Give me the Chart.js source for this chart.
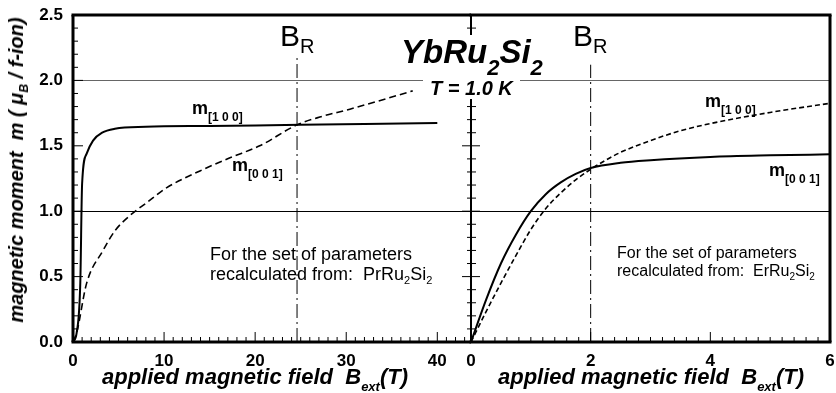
<!DOCTYPE html>
<html>
<head>
<meta charset="utf-8">
<script src="https://cdn.jsdelivr.net/npm/chart.js@4.4.1/dist/chart.umd.min.js"></script>
<style>
  body { margin: 0; background: #fff; }
  #wrap { position: relative; width: 836px; height: 393px; overflow: hidden; font-family: "Liberation Sans", Arial, sans-serif; color: #000; }
  canvas { position: absolute; top: 0; }
  .t { position: absolute; white-space: nowrap; line-height: 1; }
  .b { font-weight: bold; }
  .bi { font-weight: bold; font-style: italic; }
  .sub { position: relative; }
</style>
</head>
<body>
<div id="wrap">
  <canvas id="left" width="471" height="393" style="left:0"></canvas>
  <canvas id="right" width="396" height="393" style="left:440px"></canvas>

  <div class="t" style="left:280px;top:21px;font-size:30px">B<span class="sub" style="font-size:20px;top:7px">R</span></div>
  <div class="t" style="left:573px;top:21px;font-size:30px">B<span class="sub" style="font-size:20px;top:7px">R</span></div>

  <div class="t bi" style="left:398px;top:35px;font-size:33px;line-height:33px;height:43px;background:#fff;padding:0 3px">YbRu<span class="sub" style="font-size:22px;top:12px">2</span>Si<span class="sub" style="font-size:22px;top:12px">2</span></div>
  <div class="t bi" style="left:423px;top:77px;font-size:20px;line-height:22px;background:#fff;padding:0 7px">T = 1.0 K</div>

  <div class="t b" style="left:192px;top:99px;font-size:18px">m<span class="sub" style="font-size:12px;top:7px">[1 0 0]</span></div>
  <div class="t b" style="left:232px;top:156px;font-size:18px">m<span class="sub" style="font-size:12px;top:7px">[0 0 1]</span></div>
  <div class="t b" style="left:705px;top:92px;font-size:18px">m<span class="sub" style="font-size:12px;top:7px">[1 0 0]</span></div>
  <div class="t b" style="left:769px;top:161px;font-size:18px">m<span class="sub" style="font-size:12px;top:7px">[0 0 1]</span></div>

  <div class="t" style="left:210px;top:244px;font-size:18px;line-height:20px">For the set of parameters<br>recalculated from:&nbsp; PrRu<span class="sub" style="font-size:11px;top:4px">2</span>Si<span class="sub" style="font-size:11px;top:4px">2</span></div>
  <div class="t" style="left:617px;top:244px;font-size:16px;line-height:18px">For the set of parameters<br>recalculated from:&nbsp; ErRu<span class="sub" style="font-size:10px;top:4px">2</span>Si<span class="sub" style="font-size:10px;top:4px">2</span></div>

  <div class="t bi" style="left:255px;top:366px;font-size:22px;transform:translateX(-50%)">applied magnetic field&nbsp; B<span class="sub" style="font-size:13px;top:7px">ext</span>(T)</div>
  <div class="t bi" style="left:651px;top:366px;font-size:22px;transform:translateX(-50%)">applied magnetic field&nbsp; B<span class="sub" style="font-size:13px;top:7px">ext</span>(T)</div>

  <div class="t bi" style="left:16px;top:170px;font-size:20px;transform:translate(-50%,-50%) rotate(-90deg)">magnetic moment&nbsp; m ( μ<span class="sub" style="font-size:12px;top:5px">B</span> / f-ion)</div>
</div>

<script>
// left panel: set of parameters from PrRu2Si2, field up to 40 T
const leftField100 = [0, 0.4, 0.8, 1.0, 1.5, 2.2, 3.2, 4.6, 8, 15, 25, 32, 40];
const leftM100 = [0, 0.07, 0.45, 1.21, 1.44, 1.54, 1.6, 1.63, 1.645, 1.652, 1.66, 1.667, 1.675];
const leftField001 = [0, 0.4, 1.5, 3.3, 4.6, 6.3, 8.0, 10.3, 14.0, 17.3, 20.5, 24.6, 27.1, 30.4, 37.3];
const leftM001 = [0, 0.07, 0.45, 0.7, 0.85, 0.97, 1.06, 1.18, 1.31, 1.41, 1.5, 1.66, 1.72, 1.78, 1.92];

// right panel: set of parameters from ErRu2Si2, field up to 6 T
const rightField001 = [0, 0.25, 0.5, 0.75, 1.0, 1.25, 1.5, 1.75, 2.0, 2.5, 3.0, 4.0, 5.0, 6.0];
const rightM001 = [0, 0.32, 0.6, 0.82, 1.0, 1.13, 1.22, 1.285, 1.33, 1.37, 1.39, 1.415, 1.427, 1.435];
const rightField100 = [0, 0.25, 0.5, 0.75, 1.0, 1.25, 1.5, 1.75, 2.0, 2.25, 2.5, 3.0, 3.5, 4.0, 5.0, 6.0];
const rightM100 = [0, 0.23, 0.45, 0.66, 0.86, 1.02, 1.14, 1.24, 1.32, 1.39, 1.45, 1.54, 1.615, 1.67, 1.755, 1.825];

// B_R markers (field, top of the dash-dot line)
const bR = [24.6, 2.0];
const bRTop = [2.18, 2.12];

const yTicks = [0, 0.5, 1.0, 1.5, 2.0, 2.5];
const leftTicks = [0, 10, 20, 30, 40];
const rightTicks = [0, 2, 4, 6];

const pts = (xs, ys) => xs.map((x, i) => ({ x, y: ys[i] }));
const tickFont = { family: "'Liberation Sans', Arial", size: 17, weight: "bold" };

// axis frame with inward ticks, drawn through the chart scales
function framePlugin(o) {
  return {
    id: "frame",
    afterDraw(chart) {
      const { ctx, chartArea: a, scales } = chart;
      const xs = scales.x, ys = scales.y;
      ctx.save();
      ctx.setLineDash([]);
      ctx.strokeStyle = "#000";
      ctx.lineCap = "butt";
      const line = (x1, y1, x2, y2, w) => {
        ctx.lineWidth = w;
        ctx.beginPath();
        ctx.moveTo(x1, y1);
        ctx.lineTo(x2, y2);
        ctx.stroke();
      };
      // y ticks on the left edge
      for (let i = 0; i <= 25; i++) {
        const py = ys.getPixelForValue(i / 10);
        const major = i % 5 === 0;
        if (o.cross) line(a.left - (major ? 9 : 4), py, a.left + (major ? 9 : 5), py, 1);
        else line(a.left, py, a.left + (major ? 10 : 5), py, 1);
      }
      // x ticks on the bottom edge
      const n = Math.floor(xs.max / o.minor + 1e-6);
      for (let i = 0; i <= n; i++) {
        const v = i * o.minor;
        const px = xs.getPixelForValue(v);
        const major = Math.abs(v / o.major - Math.round(v / o.major)) < 1e-6;
        line(px, a.bottom, px, a.bottom - (major ? 10 : 5), 1);
      }
      const x0 = a.left - 1.5, x1 = a.right + (o.rightEdge ? 1.5 : 0);
      line(x0, a.top, x1, a.top, 3);
      line(x0, a.bottom, x1, a.bottom, 3);
      line(a.left, a.top, a.left, a.bottom, o.cross ? 2 : 3);
      if (o.rightEdge) line(a.right, a.top, a.right, a.bottom, 3);
      ctx.restore();
    },
  };
}

function gridColor(c) {
  const v = c.tick && c.tick.value;
  if (Math.abs(v - 1) < 1e-6) return "#000";
  if (Math.abs(v - 2) < 1e-6) return "#666";
  return "rgba(0,0,0,0)";
}

function makeChart(id, cfg) {
  return new Chart(document.getElementById(id), {
    type: "scatter",
    data: {
      datasets: [
        {
          data: cfg.solid,
          showLine: true,
          borderColor: "#000",
          borderWidth: 2,
          pointRadius: 0,
          cubicInterpolationMode: "monotone",
        },
        {
          data: cfg.dashed,
          showLine: true,
          borderColor: "#000",
          borderWidth: 1.6,
          borderDash: cfg.dash,
          pointRadius: 0,
          cubicInterpolationMode: "monotone",
        },
        {
          data: [{ x: cfg.br, y: 0 }, { x: cfg.br, y: cfg.brTop }],
          showLine: true,
          borderColor: "#000",
          borderWidth: 1,
          borderDash: [14, 4, 2, 4],
          pointRadius: 0,
        },
      ],
    },
    options: {
      responsive: false,
      devicePixelRatio: 1,
      animation: false,
      events: [],
      layout: { padding: cfg.padding },
      plugins: { legend: { display: false }, tooltip: { enabled: false } },
      scales: {
        x: {
          type: "linear",
          min: 0,
          max: cfg.xmax,
          afterBuildTicks: (s) => { s.ticks = cfg.xticks.map((v) => ({ value: v })); },
          ticks: { font: tickFont, color: "#000", padding: 9, maxRotation: 0, autoSkip: false },
          grid: { display: false, drawTicks: false },
          border: { display: false },
          // fixed height, and no extra room for the end labels
          afterFit: (s) => { s.height = 51; s.paddingLeft = 0; s.paddingRight = 0; },
        },
        y: {
          min: 0,
          max: 2.5,
          afterBuildTicks: (s) => { s.ticks = yTicks.map((v) => ({ value: v })); },
          ticks: {
            display: cfg.yLabels,
            font: tickFont,
            color: "#000",
            padding: 10,
            callback: (v) => v.toFixed(1),
          },
          grid: { color: gridColor, lineWidth: 1, drawTicks: false },
          border: { display: false },
          afterFit: (s) => { s.width = cfg.yLabels ? 73 : 0; s.paddingTop = 0; s.paddingBottom = 0; },
        },
      },
    },
    plugins: [framePlugin(cfg.frame)],
  });
}

makeChart("left", {
  solid: pts(leftField100, leftM100),
  dashed: pts(leftField001, leftM001),
  dash: [7, 4],
  br: bR[0],
  brTop: bRTop[0],
  xmax: 43.7,
  xticks: leftTicks,
  yLabels: true,
  padding: { top: 15, left: 0, right: 0, bottom: 0 },
  frame: { minor: 1, major: 10, cross: false, rightEdge: false },
});

makeChart("right", {
  solid: pts(rightField001, rightM001),
  dashed: pts(rightField100, rightM100),
  dash: [5, 3],
  br: bR[1],
  brTop: bRTop[1],
  xmax: 6,
  xticks: rightTicks,
  yLabels: false,
  padding: { top: 15, left: 31, right: 6, bottom: 0 },
  frame: { minor: 0.2, major: 2, cross: true, rightEdge: true },
});
</script>
</body>
</html>
